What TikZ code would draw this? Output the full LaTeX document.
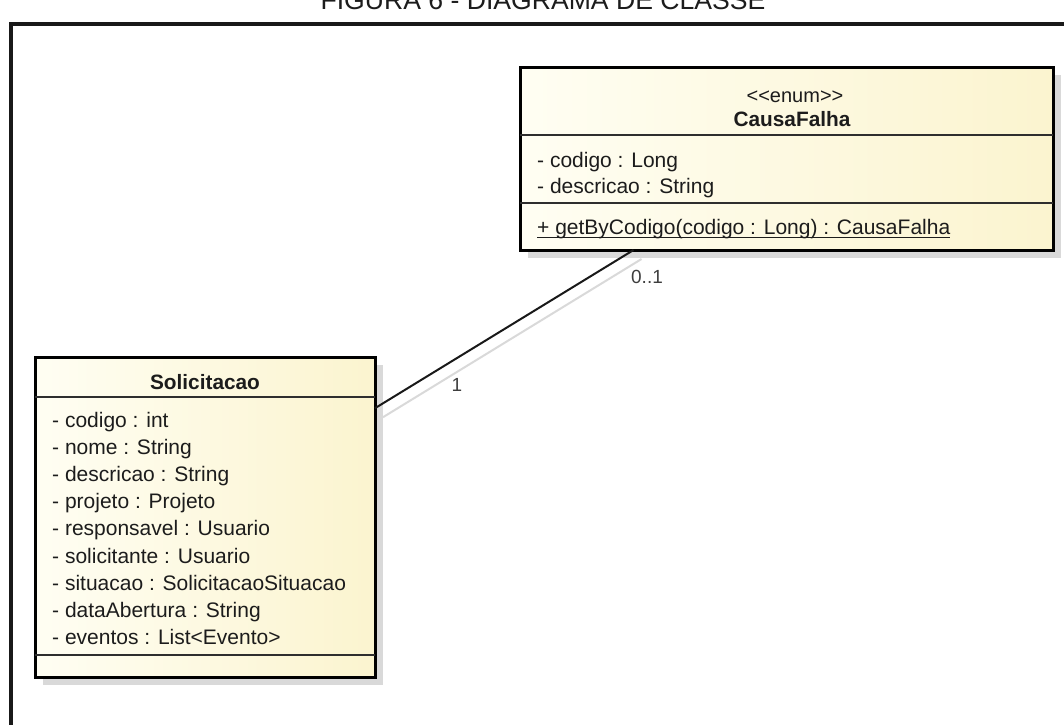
\documentclass[tikz,border=0pt]{standalone}
\usepackage{fontspec}
\setmainfont{Liberation Sans}
\usetikzlibrary{calc}
\definecolor{boxL}{HTML}{FFFEF3}
\definecolor{boxR}{HTML}{FBF4CF}
\definecolor{shadowgray}{HTML}{D9D9D9}
\definecolor{txt}{HTML}{1C1C1C}
\definecolor{sepline}{HTML}{2E2E2E}
\begin{document}
\begin{tikzpicture}[x=1pt,y=-1pt,
  classbox/.style={draw=black, line width=3pt, left color=boxL, right color=boxR,
    inner sep=0pt, outer sep=0pt, anchor=north west},
  boxshadow/.style={fill=shadowgray, draw=none, inner sep=0pt, outer sep=0pt, anchor=north west},
  sep/.style={draw=sepline, line width=1.6pt},
  attr/.style={anchor=base west, inner sep=0pt, text=txt, font=\fontsize{21}{24}\selectfont},
  cname/.style={anchor=base, inner sep=0pt, text=txt, font=\fontsize{20.8}{24}\selectfont\bfseries},
  stereo/.style={anchor=base, inner sep=0pt, text=txt, font=\fontsize{20}{24}\selectfont},
  mult/.style={inner sep=0pt, text=txt!85, font=\fontsize{19}{22}\selectfont},
  assoc/.style={draw=black!90, line width=2pt},
  assocshadow/.style={draw=black!15, line width=2pt},
  frameline/.style={draw=black!90, line width=3.5pt}
]
\useasboundingbox (0,0) rectangle (1064,724);
\clip (0,0) rectangle (1064,724);

% page frame and the caption above it
\node[anchor=base, inner sep=0pt, text=txt, font=\fontsize{26.6}{30}\selectfont]
  (caption) at (543,9) {FIGURA 6 - DIAGRAMA DE CLASSE};
\draw[frameline] (11,760) -- (11,24) -- (1100,24);

% ---------- enum CausaFalha ----------
\node[boxshadow, minimum width=533pt, minimum height=183pt] (causaShadow) at (528,75) {};
\node[classbox, minimum width=533pt, minimum height=183pt] (causa) at (520,67) {};
\draw[sep] (causa.west |- 0,135) -- (causa.east |- 0,135);
\draw[sep] (causa.west |- 0,203) -- (causa.east |- 0,203);
\node[stereo] (causaStereo) at (795,102) {<{}<enum>{}>};
\node[cname] (causaName) at (792,126) {CausaFalha};
\node[attr] (causaA1) at (537,167) {- codigo : Long};
\node[attr] (causaA2) at (537,193) {- descricao : String};
\node[attr] (causaM1) at (537,234) {+ getByCodigo(codigo : Long) : CausaFalha};
\draw[draw=txt, line width=1pt] ([yshift=-3pt]causaM1.base west) -- ([yshift=-3pt]causaM1.base east);

% ---------- class Solicitacao ----------
\node[boxshadow, minimum width=340pt, minimum height=320pt] (solShadow) at (43,365) {};
\node[classbox, minimum width=340pt, minimum height=320pt] (sol) at (35,357) {};
\draw[sep] (sol.west |- 0,397) -- (sol.east |- 0,397);
\draw[sep] (sol.west |- 0,655) -- (sol.east |- 0,655);
\node[cname] (solName) at (205,389) {Solicitacao};
\foreach \t [count=\i from 0] in {
  - codigo : int,
  - nome : String,
  - descricao : String,
  - projeto : Projeto,
  - responsavel : Usuario,
  - solicitante : Usuario,
  - situacao : SolicitacaoSituacao,
  - dataAbertura : String,
  - eventos : List<Evento>}
  \node[attr] (solA\i) at (52,{427.5+27.1*\i}) {\t};

% ---------- association ----------
\coordinate (endSol) at ($(sol.north east)!0.16!(sol.south east)$);
\coordinate (endCausa) at ($(causa.south west)!0.213!(causa.south east)$);
\draw[assocshadow] ([shift={(8,9)}]endSol) -- ([shift={(8,9)}]endCausa);
\draw[assoc] (endSol) -- (endCausa);
\node[mult] (multCausa) at (647,277) {0..1};
\node[mult] (multSol) at (457,385) {1};
\end{tikzpicture}
\end{document}
